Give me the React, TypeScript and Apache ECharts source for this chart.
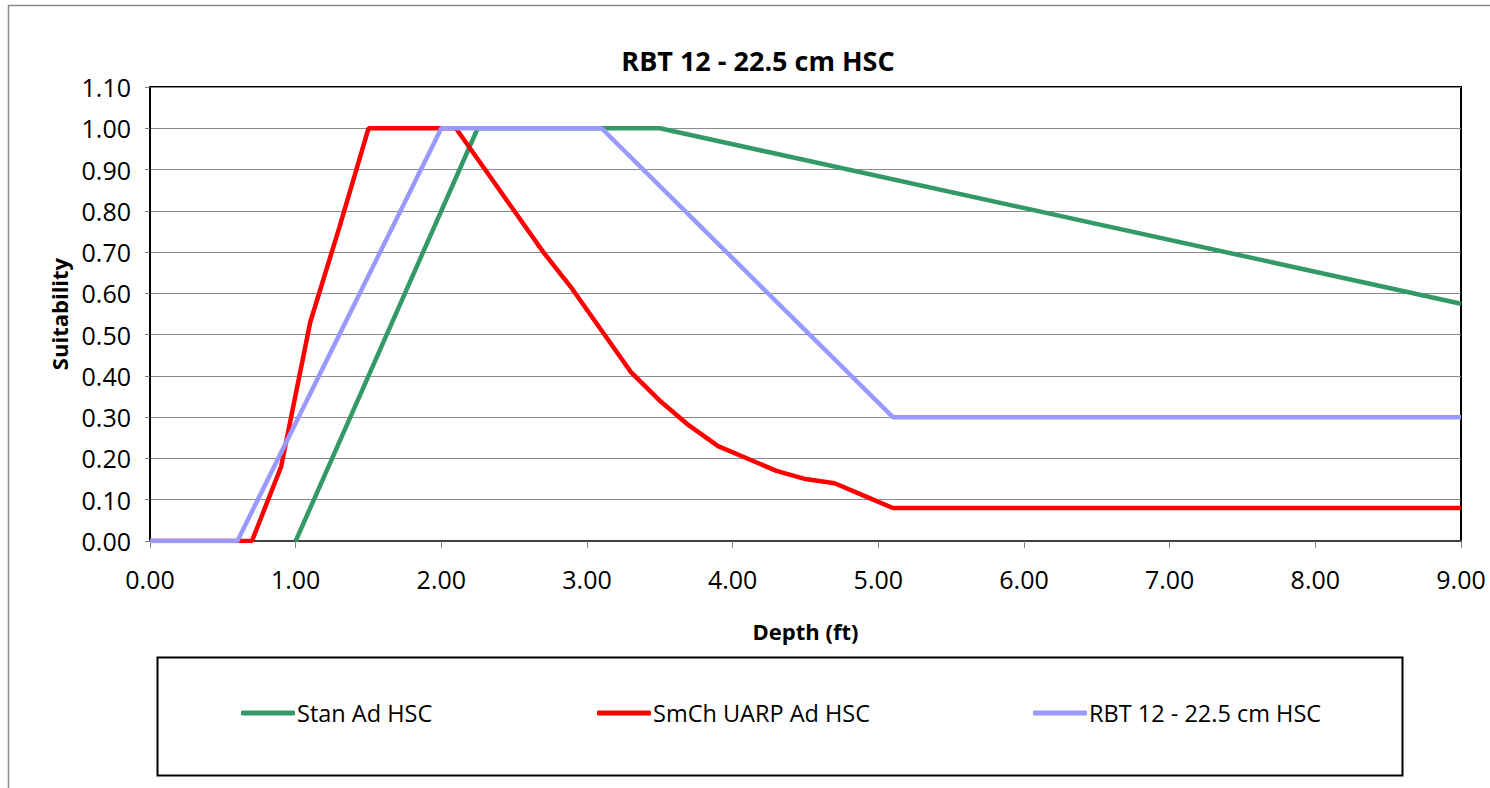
import React, { useEffect, useRef } from "react";
import * as echarts from "echarts";

const TITLE = "RBT 12 - 22.5 cm HSC";
const X_NAME = "Depth (ft)";
const Y_NAME = "Suitability";

const stanName = "Stan Ad HSC";
const stanData: [number, number][] = [
  [1.0, 0], [2.25, 1.0], [3.5, 1.0], [9.0, 0.575],
];

const smchName = "SmCh UARP Ad HSC";
const smchData: [number, number][] = [
  [0, 0], [0.7, 0], [0.9, 0.18], [1.1, 0.53], [1.3, 0.76], [1.5, 1.0],
  [2.1, 1.0], [2.3, 0.9], [2.5, 0.8], [2.7, 0.7], [2.9, 0.61], [3.1, 0.51],
  [3.3, 0.41], [3.5, 0.34], [3.7, 0.28], [3.9, 0.23], [4.1, 0.2], [4.3, 0.17],
  [4.5, 0.15], [4.7, 0.14], [4.9, 0.11], [5.1, 0.08], [9.0, 0.08],
];

const rbtName = "RBT 12 - 22.5 cm HSC";
const rbtData: [number, number][] = [
  [0, 0], [0.6, 0], [2.0, 1.0], [3.1, 1.0], [5.1, 0.3], [9.0, 0.3],
];

const FONT = "'Open Sans', Lato, sans-serif";

export default function App() {
  const ref = useRef<HTMLDivElement>(null);
  useEffect(() => {
    if (!ref.current) return;
    const chart = echarts.init(ref.current, null, { renderer: "svg" });
    const mkLine = (name: string, data: [number, number][], color: string) => ({
      name,
      type: "line",
      data,
      showSymbol: false,
      symbol: "none",
      lineStyle: { color, width: 4.5 },
      itemStyle: { color },
      z: 3,
    });
    const legendCommon = {
      orient: "horizontal",
      icon: "roundRect",
      itemWidth: 54,
      itemHeight: 5,
      itemGap: 0,
      top: 696,
      textStyle: { fontFamily: FONT, fontSize: 23.5, color: "#000", padding: [0, 0, 0, -3] },
    };
    chart.setOption({
      animation: false,
      backgroundColor: "#fff",
      textStyle: { fontFamily: FONT },
      title: {
        text: TITLE,
        left: 753,
        textAlign: "center",
        top: 42,
        textStyle: { fontFamily: FONT, fontSize: 27, fontWeight: "bold", color: "#000" },
      },
      legend: [
        { ...legendCommon, left: 236, data: [stanName] },
        { ...legendCommon, left: 592, data: [smchName] },
        { ...legendCommon, left: 1028, data: [rbtName] },
      ],
      grid: {
        left: 150,
        right: 29,
        top: 87,
        bottom: 247,
        show: true,
        borderColor: "#000",
        borderWidth: 2,
        backgroundColor: "transparent",
      },
      xAxis: {
        type: "value",
        min: 0,
        max: 9,
        interval: 1,
        name: X_NAME,
        nameLocation: "middle",
        nameGap: 79,
        nameTextStyle: { fontFamily: FONT, fontSize: 22, fontWeight: "bold", color: "#000" },
        axisLine: { show: true, onZero: false, lineStyle: { color: "#404040", width: 2 } },
        axisTick: { show: true, inside: false, length: 7, lineStyle: { color: "#808080", width: 1 } },
        axisLabel: {
          fontFamily: FONT,
          fontSize: 25,
          color: "#000",
          margin: 25,
          formatter: (v: number) => v.toFixed(2),
        },
        splitLine: { show: false },
      },
      yAxis: {
        type: "value",
        min: 0,
        max: 1.1,
        interval: 0.1,
        name: Y_NAME,
        nameLocation: "middle",
        nameGap: 80,
        nameRotate: 90,
        nameTextStyle: { fontFamily: FONT, fontSize: 22, fontWeight: "bold", color: "#000" },
        axisLine: { show: true, onZero: false, lineStyle: { color: "#000", width: 2 } },
        axisTick: { show: true, inside: false, length: 5, lineStyle: { color: "#808080", width: 1 } },
        axisLabel: {
          fontFamily: FONT,
          fontSize: 25,
          color: "#000",
          margin: 19,
          formatter: (v: number) => v.toFixed(2),
        },
        splitLine: { show: true, lineStyle: { color: "#8a8a8a", width: 1 } },
      },
      graphic: [
        {
          type: "rect",
          left: 6,
          top: 3,
          shape: { width: 1600, height: 900 },
          style: { fill: "none", stroke: "#8c8c8c", lineWidth: 1.5 },
          silent: true,
          z: -10,
        },
        {
          type: "rect",
          left: 155,
          top: 655,
          shape: { width: 1245, height: 118 },
          style: { fill: "none", stroke: "#000", lineWidth: 2 },
          silent: true,
        },
      ],
      series: [
        mkLine(stanName, stanData, "#339966"),
        mkLine(smchName, smchData, "#ff0000"),
        mkLine(rbtName, rbtData, "#9999ff"),
      ],
    });
    return () => chart.dispose();
  }, []);
  return (
    <div
      ref={ref}
      style={{ position: "fixed", left: 0, top: 0, width: 1490, height: 788, background: "#fff" }}
    />
  );
}
